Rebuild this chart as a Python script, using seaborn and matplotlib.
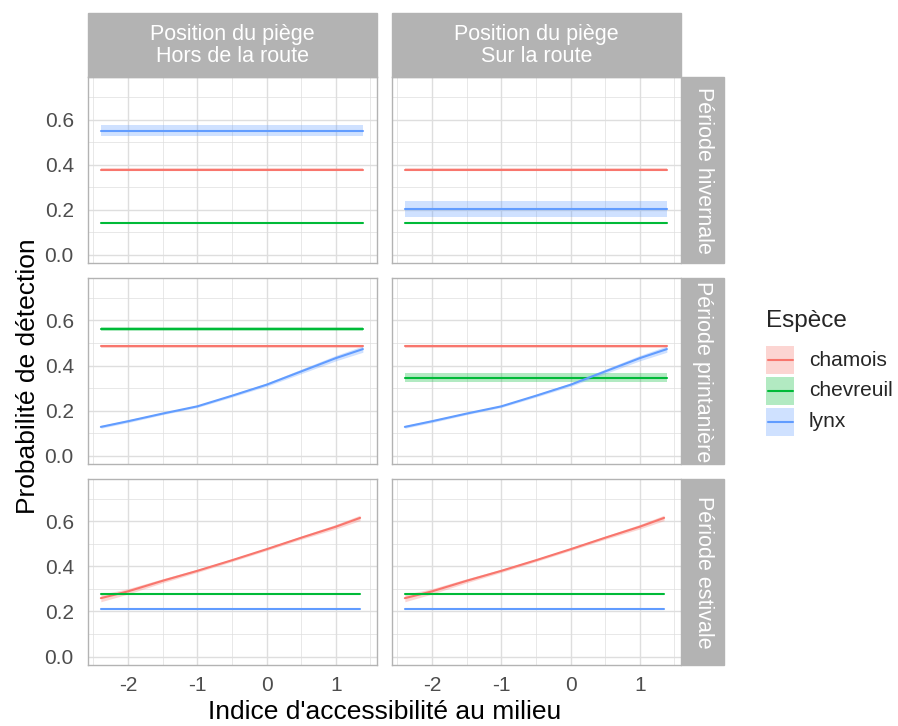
import numpy as np
import pandas as pd
import matplotlib
matplotlib.use("Agg")
import matplotlib.pyplot as plt
import seaborn as sns
from matplotlib.patches import Rectangle
from matplotlib.lines import Line2D

# =========================
# Data
# =========================
species = ["chamois", "chevreuil", "lynx"]
periods = ["Période hivernale", "Période printanière", "Période estivale"]
positions = ["Hors de la route", "Sur la route"]

# x grids (indice d'accessibilite)
x_hiver = [-2.39, -2.0, -1.5, -1.0, -0.5, 0.0, 0.5, 1.0, 1.39]
x_print = [-2.39, -2.0, -1.5, -1.0, -0.5, 0.0, 0.5, 1.0, 1.39]
x_este = [-2.39, -2.0, -1.5, -1.0, -0.5, 0.0, 0.5, 1.0, 1.35]

# flat estimates (p, half width of ribbon)
hiver_hors = {"chamois": (0.378, 0.006), "chevreuil": (0.140, 0.004), "lynx": (0.551, 0.025)}
hiver_sur = {"chamois": (0.378, 0.006), "chevreuil": (0.140, 0.004), "lynx": (0.203, 0.035)}
print_hors = {"chamois": (0.485, 0.005), "chevreuil": (0.563, 0.010)}
print_sur = {"chamois": (0.485, 0.005), "chevreuil": (0.347, 0.020)}
este_flat = {"chevreuil": (0.276, 0.004), "lynx": (0.209, 0.004)}

# curves
lynx_print = [0.128, 0.153, 0.187, 0.219, 0.266, 0.315, 0.374, 0.433, 0.473]
lynx_print_lo = [0.122, 0.147, 0.182, 0.214, 0.260, 0.308, 0.364, 0.421, 0.459]
lynx_print_hi = [0.134, 0.159, 0.192, 0.224, 0.272, 0.322, 0.384, 0.445, 0.487]
chamois_este = [0.259, 0.289, 0.336, 0.380, 0.427, 0.476, 0.527, 0.576, 0.615]
chamois_este_lo = [0.243, 0.277, 0.327, 0.373, 0.421, 0.470, 0.520, 0.566, 0.603]
chamois_este_hi = [0.275, 0.301, 0.345, 0.387, 0.433, 0.482, 0.534, 0.586, 0.627]

colors = ["#F8766D", "#00BA38", "#619CFF"]
pal = dict(zip(species, colors))

# build long table
rows = []
def add_flat(x, table, periode, pos):
    for sp, (p, hw) in table.items():
        for xi in x:
            rows.append([xi, p, p - hw, p + hw, sp, periode, pos])

def add_curve(x, p, lo, hi, sp, periode, pos):
    for xi, pi, l, h in zip(x, p, lo, hi):
        rows.append([xi, pi, l, h, sp, periode, pos])

add_flat(x_hiver, hiver_hors, periods[0], positions[0])
add_flat(x_hiver, hiver_sur, periods[0], positions[1])
add_flat(x_print, print_hors, periods[1], positions[0])
add_flat(x_print, print_sur, periods[1], positions[1])
for pos in positions:
    add_curve(x_print, lynx_print, lynx_print_lo, lynx_print_hi, "lynx", periods[1], pos)
    add_flat(x_este, este_flat, periods[2], pos)
    add_curve(x_este, chamois_este, chamois_este_lo, chamois_este_hi, "chamois", periods[2], pos)

df = pd.DataFrame(rows, columns=["x", "p", "lo", "hi", "espece", "periode", "position"])

# =========================
# Figure
# =========================
sns.set_style("white")
plt.rcParams["font.family"] = ["Liberation Sans", "DejaVu Sans"]

W, H = 898, 726
fig = plt.figure(figsize=(W / 100, H / 100), dpi=100)

def frac(x0, y0, x1, y1):
    return [x0 / W, 1 - y1 / H, (x1 - x0) / W, (y1 - y0) / H]

col_x = [(87.7, 376.7), (391.7, 680.7)]
row_y = [(77.3, 263.3), (278.2, 464.2), (479.0, 665.0)]
strip_col = "#B3B3B3"
border_col = "#B3B3B3"
grid_col = "#DEDEDE"

for i, per in enumerate(periods):
    for j, pos in enumerate(positions):
        ax = fig.add_axes(frac(col_x[j][0], row_y[i][0], col_x[j][1], row_y[i][1]))
        sub = df[(df.periode == per) & (df.position == pos)]
        for sp in species:
            s = sub[sub.espece == sp]
            ax.fill_between(s.x, s.lo, s.hi, color=pal[sp], alpha=0.3, linewidth=0)
        sns.lineplot(data=sub, x="x", y="p", hue="espece", hue_order=species,
                     palette=pal, ax=ax, legend=False, linewidth=1.5, errorbar=None)
        ax.set_xlim(-2.58, 1.59)
        ax.set_ylim(-0.0375, 0.7875)
        ax.set_xticks([-2, -1, 0, 1])
        ax.set_yticks([0.0, 0.2, 0.4, 0.6])
        ax.set_xticks([-2.5, -1.5, -0.5, 0.5, 1.5], minor=True)
        ax.set_yticks([0.1, 0.3, 0.5, 0.7], minor=True)
        ax.grid(True, which="major", color=grid_col, linewidth=1.0)
        ax.grid(True, which="minor", color=grid_col, linewidth=0.5)
        ax.set_axisbelow(True)
        ax.set_xlabel("")
        ax.set_ylabel("")
        for sp_ in ax.spines.values():
            sp_.set_color(border_col)
            sp_.set_linewidth(1.0)
        ax.tick_params(which="major", length=5, color=border_col, width=0.8,
                       labelsize=15, labelcolor="#4D4D4D")
        ax.tick_params(axis="y", which="major", pad=5)
        ax.tick_params(axis="x", which="major", pad=3)
        ax.tick_params(which="minor", length=0)
        ax.set_yticklabels(["0.0", "0.2", "0.4", "0.6"])
        ax.set_xticklabels(["-2", "-1", "0", "1"])
        if j > 0:
            ax.tick_params(axis="y", which="major", labelleft=False, length=0)
        if i < 2:
            ax.tick_params(axis="x", which="major", labelbottom=False, length=0)

# top strips
for j, pos in enumerate(positions):
    x0, x1 = col_x[j]
    fig.patches.append(Rectangle((x0 / W, 1 - 77.3 / H), (x1 - x0) / W, (77.3 - 13) / H,
                                 transform=fig.transFigure, color=strip_col, zorder=0))
    fig.text((x0 + x1) / 2 / W, 1 - 45.5 / H, "Position du piège\n" + pos,
             ha="center", va="center", color="white", fontsize=15.5, linespacing=1.1)

# right strips
for i, per in enumerate(periods):
    y0, y1 = row_y[i]
    fig.patches.append(Rectangle((681.7 / W, 1 - y1 / H), (723.5 - 681.7) / W, (y1 - y0) / H,
                                 transform=fig.transFigure, color=strip_col, zorder=0))
    fig.text(703 / W, 1 - (y0 + y1) / 2 / H, per, ha="center", va="center",
             rotation=-90, color="white", fontsize=15.5)

# axis titles
fig.text(28 / W, 1 - 376 / H, "Probabilité de détection", rotation=90,
         ha="center", va="center", fontsize=19, color="black")
fig.text(385 / W, 1 - 712 / H, "Indice d'accessibilité au milieu",
         ha="center", va="center", fontsize=19, color="black")

# legend (ggplot style keys: ribbon fill + line)
fig.text(766 / W, 1 - 321 / H, "Espèce", ha="left", va="center", fontsize=17.5)
key_tops = [346, 376.7, 407.7]
for sp, c, top in zip(species, colors, key_tops):
    fig.patches.append(Rectangle((766 / W, 1 - (top + 28) / H), 28 / W, 28 / H,
                                 transform=fig.transFigure, color=c, alpha=0.3, linewidth=0))
    fig.lines.append(Line2D([768 / W, 793 / W], [1 - (top + 14) / H] * 2,
                            transform=fig.transFigure, color=c, linewidth=1.5))
    fig.text(809 / W, 1 - (top + 14) / H, sp, ha="left", va="center", fontsize=15)

fig.savefig("out.png", dpi=100)
